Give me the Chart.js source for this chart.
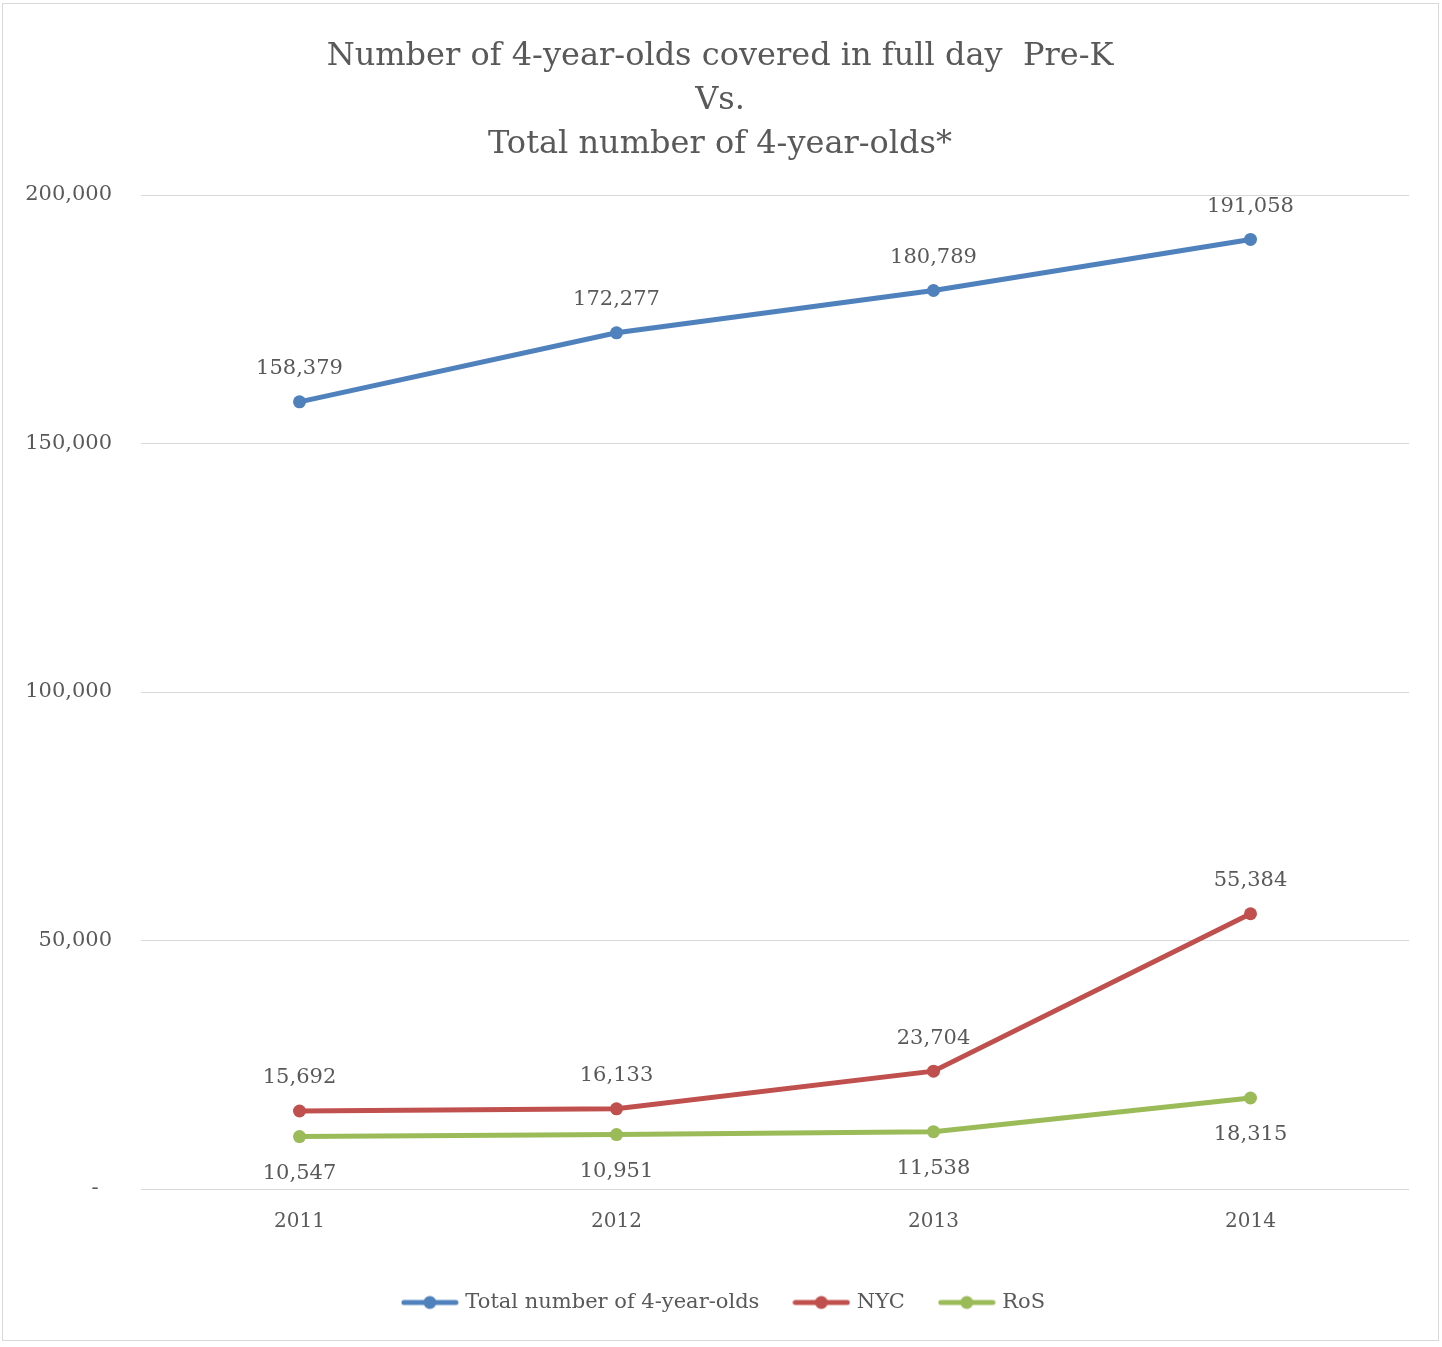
<!DOCTYPE html>
<html>
<head>
<meta charset="utf-8">
<script src="https://cdn.jsdelivr.net/npm/chart.js@4.4.1/dist/chart.umd.min.js"></script>
<style>
  html, body { margin: 0; padding: 0; background: #ffffff; }
  #wrap { position: relative; width: 1442px; height: 1347px; }
  #frame { position: absolute; left: 2px; top: 3px; width: 1435px; height: 1336px; border: 1px solid #d9d9d9; pointer-events: none; }
</style>
</head>
<body>
<div id="wrap">
  <canvas id="c" width="1442" height="1347"></canvas>
  <div id="frame"></div>
</div>
<script>
const years = ["2011", "2012", "2013", "2014"];
const totalFourYearOlds = [158379, 172277, 180789, 191058];
const nycValues = [15692, 16133, 23704, 55384];
const rosValues = [10547, 10951, 11538, 18315];
const seriesNames = ["Total number of 4-year-olds", "NYC", "RoS"];
const yTickValues = [0, 50000, 100000, 150000, 200000];

const colors = ["#4F81BD", "#C0504D", "#9BBB59"];
const labelOffsets = [-33, -33, 37];
const FONT = "'DejaVu Serif', 'Liberation Serif', serif";
const TEXT = "#595959";

function fmt(v) { return v.toLocaleString('en-US'); }

function legendIcon(color) {
  const c = document.createElement('canvas');
  c.width = 58; c.height = 16;
  const g = c.getContext('2d');
  g.strokeStyle = color; g.lineWidth = 5; g.lineCap = 'round';
  g.beginPath(); g.moveTo(3, 8); g.lineTo(55, 8); g.stroke();
  g.fillStyle = color;
  g.beginPath(); g.arc(29, 8, 6.5, 0, Math.PI * 2); g.fill();
  return c;
}
const icons = colors.map(legendIcon);

const dataLabelPlugin = {
  id: 'dataLabels',
  afterDatasetsDraw(chart) {
    const ctx = chart.ctx;
    ctx.save();
    ctx.font = "21px " + FONT;
    ctx.fillStyle = TEXT;
    ctx.textAlign = 'center';
    ctx.textBaseline = 'middle';
    chart.data.datasets.forEach((ds, i) => {
      const meta = chart.getDatasetMeta(i);
      meta.data.forEach((pt, j) => {
        ctx.fillText(fmt(ds.data[j]), pt.x, pt.y + labelOffsets[i]);
      });
    });
    ctx.restore();
  }
};

// shift title / legend boxes so they are centred like the original
const centerPlugin = {
  id: 'centerBlocks',
  afterLayout(chart) {
    if (chart.titleBlock) chart.titleBlock.left = 31;
    if (chart.legend) chart.legend.left = 41;
  }
};

const seriesData = [totalFourYearOlds, nycValues, rosValues];

new Chart(document.getElementById('c'), {
  type: 'line',
  data: {
    labels: years,
    datasets: seriesData.map((d, i) => ({
      label: seriesNames[i],
      data: d,
      borderColor: colors[i],
      backgroundColor: colors[i],
      borderWidth: 5,
      pointRadius: 6.5,
      pointHoverRadius: 6.5,
      pointBackgroundColor: colors[i],
      pointBorderWidth: 0,
      tension: 0,
      fill: false
    }))
  },
  options: {
    responsive: false,
    animation: false,
    events: [],
    layout: { padding: { left: 0, right: 33, top: 0, bottom: 24 } },
    plugins: {
      title: {
        display: true,
        text: ["Number of 4-year-olds covered in full day  Pre-K", "Vs.", "Total number of 4-year-olds*"],
        color: TEXT,
        font: { family: FONT, size: 32, weight: 'normal', lineHeight: 1.375 },
        padding: { top: 35, bottom: 28 }
      },
      legend: {
        position: 'bottom',
        labels: {
          usePointStyle: true,
          pointStyleWidth: 50,
          boxHeight: 16,
          color: TEXT,
          font: { family: FONT, size: 21 },
          padding: 37,
          generateLabels(chart) {
            return chart.data.datasets.map((ds, i) => ({
              text: ds.label,
              fillStyle: colors[i],
              strokeStyle: colors[i],
              lineWidth: 0,
              pointStyle: icons[i],
              fontColor: TEXT,
              datasetIndex: i,
              hidden: false
            }));
          }
        }
      },
      tooltip: { enabled: false }
    },
    scales: {
      x: {
        offset: true,
        grid: { display: false, drawTicks: false },
        border: { display: false },
        ticks: { color: TEXT, font: { family: FONT, size: 20 }, padding: 21 }
      },
      y: {
        min: 0,
        max: 200000,
        afterBuildTicks(scale) { scale.ticks = yTickValues.map(v => ({ value: v })); },
        afterFit(scale) { scale.width = 141; },
        grid: { color: '#d9d9d9', lineWidth: 1, drawTicks: false },
        border: { display: false },
        ticks: {
          color: TEXT,
          font: { family: FONT, size: 21 },
          padding: 29,
          callback: v => v === 0 ? '-  ' : fmt(v)
        }
      }
    }
  },
  plugins: [dataLabelPlugin, centerPlugin]
});
</script>
</body>
</html>
